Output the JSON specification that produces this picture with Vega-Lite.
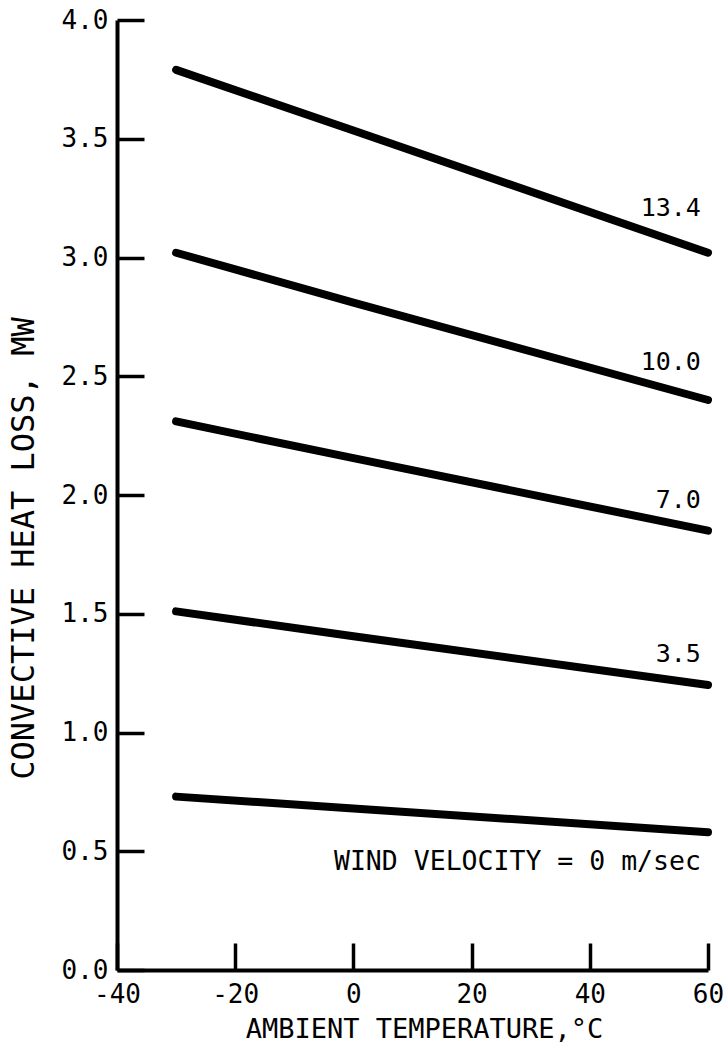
{
  "$schema": "https://vega.github.io/schema/vega-lite/v6.json",
  "width": 591,
  "height": 950,
  "autosize": "none",
  "padding": {"left": 117, "top": 20, "right": 16, "bottom": 76},
  "background": "white",
  "config": {"view": {"stroke": null}, "font": "DejaVu Sans Mono"},
  "datasets": {
    "curves": [
      {"wind": "13.4", "temp": -30, "loss": 3.79},
      {"wind": "13.4", "temp": 0, "loss": 3.535},
      {"wind": "13.4", "temp": 60, "loss": 3.02},
      {"wind": "10.0", "temp": -30, "loss": 3.02},
      {"wind": "10.0", "temp": 0, "loss": 2.81},
      {"wind": "10.0", "temp": 60, "loss": 2.40},
      {"wind": "7.0", "temp": -30, "loss": 2.31},
      {"wind": "7.0", "temp": 0, "loss": 2.155},
      {"wind": "7.0", "temp": 60, "loss": 1.85},
      {"wind": "3.5", "temp": -30, "loss": 1.51},
      {"wind": "3.5", "temp": 0, "loss": 1.405},
      {"wind": "3.5", "temp": 60, "loss": 1.20},
      {"wind": "0", "temp": -30, "loss": 0.73},
      {"wind": "0", "temp": 0, "loss": 0.68},
      {"wind": "0", "temp": 60, "loss": 0.58}
    ],
    "labels": [
      {"label": "13.4", "temp": 58.8, "loss": 3.21, "size": 25},
      {"label": "10.0", "temp": 58.8, "loss": 2.56, "size": 25},
      {"label": "7.0", "temp": 58.8, "loss": 1.98, "size": 25},
      {"label": "3.5", "temp": 58.8, "loss": 1.33, "size": 25},
      {"label": "WIND VELOCITY = 0 m/sec", "temp": 58.8, "loss": 0.455, "size": 26.5}
    ]
  },
  "layer": [
    {
      "data": {"name": "curves"},
      "mark": {"type": "line", "color": "black", "strokeWidth": 8, "strokeCap": "round", "strokeJoin": "round"},
      "encoding": {
        "x": {
          "field": "temp", "type": "quantitative",
          "scale": {"domain": [-40, 60], "nice": false, "zero": false},
          "axis": {
            "values": [-40, -20, 0, 20, 40, 60],
            "labelExpr": "toString(datum.value)",
            "grid": false,
            "tickSize": -27, "tickWidth": 3.5, "tickColor": "black",
            "domainColor": "black", "domainWidth": 4,
            "labelColor": "black", "labelFontSize": 26, "labelPadding": 38, "labelFlush": false,
            "title": "AMBIENT TEMPERATURE,°C",
            "titleColor": "black", "titleFontSize": 27, "titleFontWeight": "normal",
            "titleX": 307, "titleY": 67, "titleBaseline": "alphabetic", "titleAlign": "center"
          }
        },
        "y": {
          "field": "loss", "type": "quantitative",
          "scale": {"domain": [0, 4], "nice": false},
          "axis": {
            "values": [0, 0.5, 1, 1.5, 2, 2.5, 3, 3.5, 4],
            "format": ".1f",
            "grid": false,
            "tickSize": -27, "tickWidth": 3.5, "tickColor": "black",
            "domainColor": "black", "domainWidth": 4,
            "labelColor": "black", "labelFontSize": 26, "labelPadding": 36, "labelFlush": false,
            "title": "CONVECTIVE HEAT LOSS, MW",
            "titleColor": "black", "titleFontSize": 32, "titleFontWeight": "normal",
            "titleAngle": -90, "titleX": -84, "titleY": 528, "titleBaseline": "alphabetic", "titleAlign": "center"
          }
        },
        "detail": {"field": "wind", "type": "nominal"}
      }
    },
    {
      "data": {"name": "labels"},
      "mark": {"type": "text", "align": "right", "baseline": "middle", "font": "DejaVu Sans Mono", "color": "black"},
      "encoding": {
        "x": {"field": "temp", "type": "quantitative"},
        "y": {"field": "loss", "type": "quantitative"},
        "text": {"field": "label"},
        "size": {"field": "size", "type": "quantitative", "scale": null}
      }
    }
  ]
}
